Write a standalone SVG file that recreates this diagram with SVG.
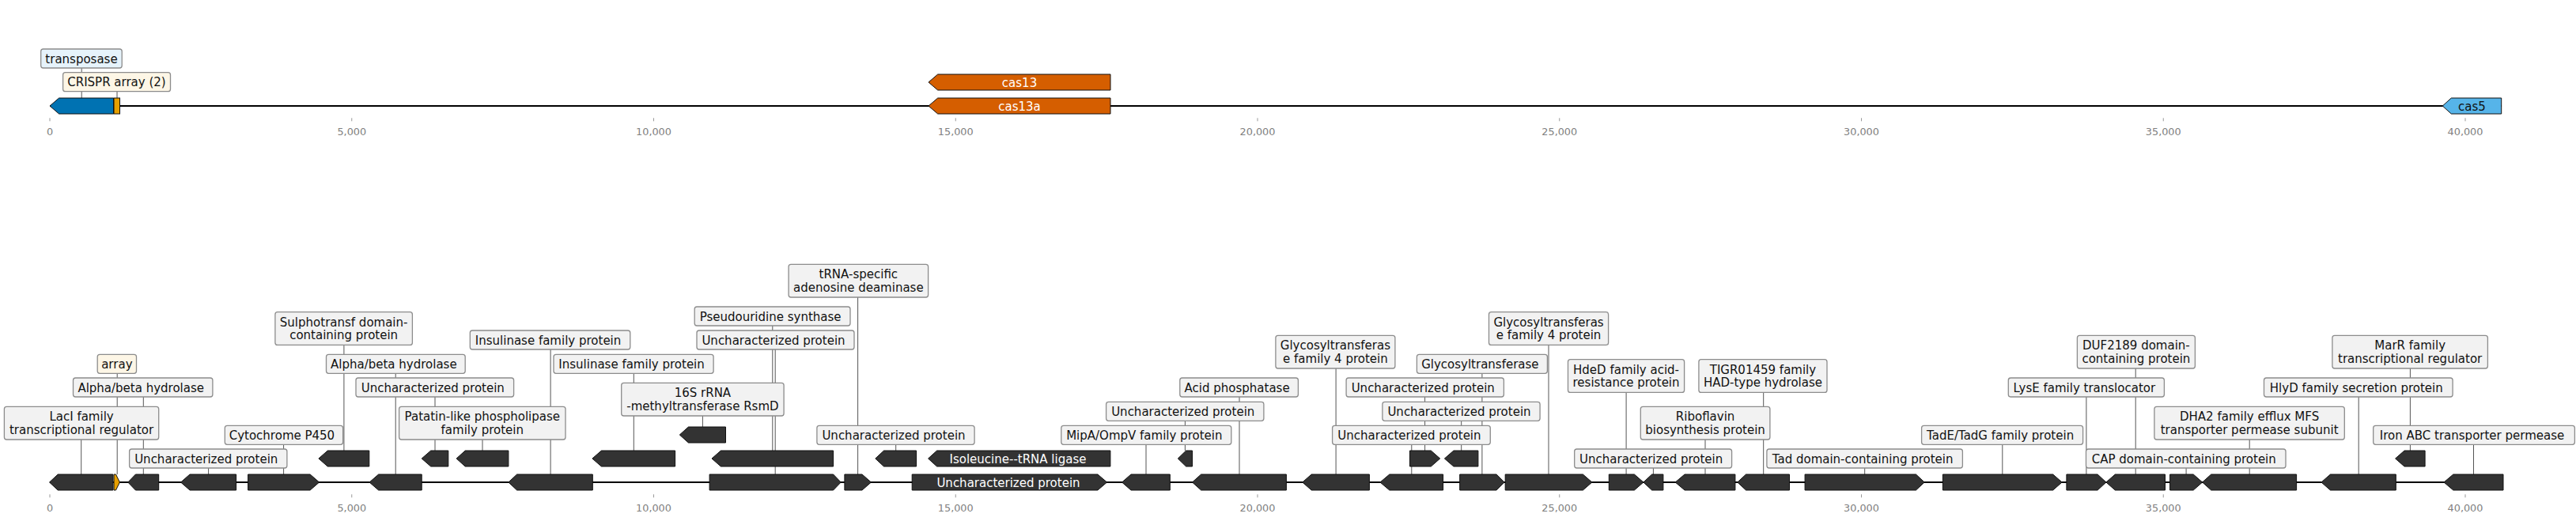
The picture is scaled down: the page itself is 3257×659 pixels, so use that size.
<svg xmlns="http://www.w3.org/2000/svg" width="3257" height="659" viewBox="0 0 3257 659">
<style>
.bg{fill:#ffffff}
.trk{stroke:#000;stroke-width:2;fill:none}
.tk{stroke:#999;stroke-width:1}
.ax{font-family:"DejaVu Sans","Liberation Sans",sans-serif;font-size:12.8px;fill:#808080;text-anchor:middle}
.g{fill:#333333;stroke:#111;stroke-width:1}
.lb{fill:#f2f2f2;stroke:#8c8c8c;stroke-width:1.3}
.lbc{fill:#fdf6e6;stroke:#8c8c8c;stroke-width:1.3}
.lbb{fill:#e6f3fb;stroke:#8c8c8c;stroke-width:1.3}
.t{font-family:"DejaVu Sans","Liberation Sans",sans-serif;font-size:15px;fill:#111;text-anchor:middle}
.tw{font-family:"DejaVu Sans","Liberation Sans",sans-serif;font-size:15px;fill:#ffffff;text-anchor:middle}
.c{stroke:#555;stroke-width:1;fill:none}
</style>
<rect class="bg" x="0" y="0" width="3257" height="659"/>
<g id="axes">
<line class="trk" x1="63" y1="134" x2="3163" y2="134"/>
<line class="trk" x1="63" y1="610" x2="3165" y2="610"/>
<g id="ticks-top">
<line class="tk" x1="63" y1="149.3" x2="63" y2="153.3"/><text class="ax" x="63" y="170.7">0</text>
<line class="tk" x1="444.75" y1="149.3" x2="444.75" y2="153.3"/><text class="ax" x="444.75" y="170.7">5,000</text>
<line class="tk" x1="826.5" y1="149.3" x2="826.5" y2="153.3"/><text class="ax" x="826.5" y="170.7">10,000</text>
<line class="tk" x1="1208.25" y1="149.3" x2="1208.25" y2="153.3"/><text class="ax" x="1208.25" y="170.7">15,000</text>
<line class="tk" x1="1590" y1="149.3" x2="1590" y2="153.3"/><text class="ax" x="1590" y="170.7">20,000</text>
<line class="tk" x1="1971.75" y1="149.3" x2="1971.75" y2="153.3"/><text class="ax" x="1971.75" y="170.7">25,000</text>
<line class="tk" x1="2353.5" y1="149.3" x2="2353.5" y2="153.3"/><text class="ax" x="2353.5" y="170.7">30,000</text>
<line class="tk" x1="2735.25" y1="149.3" x2="2735.25" y2="153.3"/><text class="ax" x="2735.25" y="170.7">35,000</text>
<line class="tk" x1="3117" y1="149.3" x2="3117" y2="153.3"/><text class="ax" x="3117" y="170.7">40,000</text>
</g>
<g id="ticks-bottom">
<line class="tk" x1="63" y1="625.3" x2="63" y2="629.3"/><text class="ax" x="63" y="646.5">0</text>
<line class="tk" x1="444.75" y1="625.3" x2="444.75" y2="629.3"/><text class="ax" x="444.75" y="646.5">5,000</text>
<line class="tk" x1="826.5" y1="625.3" x2="826.5" y2="629.3"/><text class="ax" x="826.5" y="646.5">10,000</text>
<line class="tk" x1="1208.25" y1="625.3" x2="1208.25" y2="629.3"/><text class="ax" x="1208.25" y="646.5">15,000</text>
<line class="tk" x1="1590" y1="625.3" x2="1590" y2="629.3"/><text class="ax" x="1590" y="646.5">20,000</text>
<line class="tk" x1="1971.75" y1="625.3" x2="1971.75" y2="629.3"/><text class="ax" x="1971.75" y="646.5">25,000</text>
<line class="tk" x1="2353.5" y1="625.3" x2="2353.5" y2="629.3"/><text class="ax" x="2353.5" y="646.5">30,000</text>
<line class="tk" x1="2735.25" y1="625.3" x2="2735.25" y2="629.3"/><text class="ax" x="2735.25" y="646.5">35,000</text>
<line class="tk" x1="3117" y1="625.3" x2="3117" y2="629.3"/><text class="ax" x="3117" y="646.5">40,000</text>
</g>
</g>
<g id="connectors">
<line class="c" x1="103.2" y1="86" x2="103.2" y2="124"/>
<line class="c" x1="148" y1="115.7" x2="148" y2="124"/>
<line class="c" x1="102.7" y1="556" x2="102.7" y2="600"/>
<line class="c" x1="148.2" y1="472.3" x2="148.2" y2="600"/>
<line class="c" x1="181.3" y1="502" x2="181.3" y2="600"/>
<line class="c" x1="263.6" y1="592" x2="263.6" y2="600"/>
<line class="c" x1="358.6" y1="562.3" x2="358.6" y2="600"/>
<line class="c" x1="434.9" y1="436" x2="434.9" y2="570"/>
<line class="c" x1="500.2" y1="472.3" x2="500.2" y2="600"/>
<line class="c" x1="550" y1="502" x2="550" y2="570"/>
<line class="c" x1="610" y1="556" x2="610" y2="570"/>
<line class="c" x1="696.1" y1="442" x2="696.1" y2="600"/>
<line class="c" x1="801.3" y1="472.3" x2="801.3" y2="570"/>
<line class="c" x1="888.4" y1="526" x2="888.4" y2="540"/>
<line class="c" x1="976.8" y1="412" x2="976.8" y2="570"/>
<line class="c" x1="980.2" y1="442" x2="980.2" y2="600"/>
<line class="c" x1="1084.6" y1="376" x2="1084.6" y2="600"/>
<line class="c" x1="1132.7" y1="562.3" x2="1132.7" y2="570"/>
<line class="c" x1="1449" y1="562.3" x2="1449" y2="600"/>
<line class="c" x1="1498.4" y1="532.3" x2="1498.4" y2="570"/>
<line class="c" x1="1567" y1="502" x2="1567" y2="600"/>
<line class="c" x1="1689.1" y1="466" x2="1689.1" y2="600"/>
<line class="c" x1="1784.8" y1="562.3" x2="1784.8" y2="600"/>
<line class="c" x1="1801.6" y1="502" x2="1801.6" y2="570"/>
<line class="c" x1="1847.7" y1="532.3" x2="1847.7" y2="570"/>
<line class="c" x1="1873.9" y1="472.3" x2="1873.9" y2="600"/>
<line class="c" x1="1958" y1="436" x2="1958" y2="600"/>
<line class="c" x1="2056.1" y1="496.4" x2="2056.1" y2="600"/>
<line class="c" x1="2090.4" y1="592" x2="2090.4" y2="600"/>
<line class="c" x1="2156" y1="556" x2="2156" y2="600"/>
<line class="c" x1="2229.7" y1="496.4" x2="2229.7" y2="600"/>
<line class="c" x1="2357.7" y1="592" x2="2357.7" y2="600"/>
<line class="c" x1="2531.8" y1="562.3" x2="2531.8" y2="600"/>
<line class="c" x1="2637.9" y1="502" x2="2637.9" y2="600"/>
<line class="c" x1="2700.2" y1="466" x2="2700.2" y2="600"/>
<line class="c" x1="2764.1" y1="592" x2="2764.1" y2="600"/>
<line class="c" x1="2844.2" y1="556" x2="2844.2" y2="600"/>
<line class="c" x1="2982.2" y1="502" x2="2982.2" y2="600"/>
<line class="c" x1="3047.4" y1="466" x2="3047.4" y2="570"/>
<line class="c" x1="3127.5" y1="562.3" x2="3127.5" y2="600"/>
</g>
<g id="top-transposase">
<polygon points="63,134 74.6,124 143.5,124 143.5,144 74.6,144" fill="#0072B2" stroke="#111" stroke-width="1"/>
<rect class="lbb" x="51.7" y="62" width="102.5" height="24" rx="3"/>
<text class="t" x="103" y="79.5">transposase</text>
</g>
<g id="top-crispr">
<rect x="144" y="124" width="7.5" height="20" fill="#E69F00" stroke="#111" stroke-width="1"/>
<rect class="lbc" x="79.6" y="91.7" width="135.9" height="24" rx="3"/>
<text class="t" x="147.5" y="109.2">CRISPR array (2)</text>
</g>
<g id="top-cas13">
<polygon points="1174,104 1185.7,94 1404,94 1404,114 1185.7,114" fill="#D55E00" stroke="#111" stroke-width="1"/>
<text class="tw" x="1289" y="109.5">cas13</text>
</g>
<g id="top-cas13a">
<polygon points="1174,134 1185.7,124 1404,124 1404,144 1185.7,144" fill="#D55E00" stroke="#111" stroke-width="1"/>
<text class="tw" x="1289" y="139.5">cas13a</text>
</g>
<g id="top-cas5">
<polygon points="3088.3,134 3099.3,124 3162.7,124 3162.7,144 3099.3,144" fill="#56B4E9" stroke="#111" stroke-width="1"/>
<text class="t" x="3125.5" y="139.5">cas5</text>
</g>
<g id="gA"><polygon class="g" points="62.5,610 73.2,600 142.9,600 142.9,620 73.2,620"/>
<rect class="lb" x="5.4" y="514.3" width="195.3" height="41.7" rx="3"/><text class="t" x="103.05" y="532.3">LacI family</text><text class="t" x="103.05" y="549">transcriptional regulator</text></g>
<g id="gArray"><polygon points="144,600 146.5,600 151.4,610 146.5,620 144,620" fill="#E69F00" stroke="#111" stroke-width="1"/>
<rect class="lbc" x="123.2" y="448.3" width="49.3" height="24" rx="3"/><text class="t" x="147.85" y="465.8">array</text></g>
<g id="gB"><polygon class="g" points="161.8,610 171.4,600 200.7,600 200.7,620 171.4,620"/>
<rect class="lb" x="92.5" y="478" width="176.4" height="24" rx="3"/><text class="t" x="178.2" y="495.5">Alpha/beta hydrolase</text></g>
<g id="gC"><polygon class="g" points="228.6,610 240,600 298.6,600 298.6,620 240,620"/>
<rect class="lb" x="163.6" y="568" width="199.3" height="24" rx="3"/><text class="t" x="260.75" y="585.5">Uncharacterized protein</text></g>
<g id="gD"><polygon class="g" points="313.6,600 392.1,600 403.6,610 392.1,620 313.6,620"/>
<rect class="lb" x="284.3" y="538.3" width="149.3" height="24" rx="3"/><text class="t" x="356.45" y="555.8">Cytochrome P450</text></g>
<g id="gE"><polygon class="g" points="402.9,580 414.3,570 466.8,570 466.8,590 414.3,590"/>
<rect class="lb" x="347.9" y="394.7" width="173.5" height="41.7" rx="3"/><text class="t" x="434.65" y="412.7">Sulphotransf domain-</text><text class="t" x="434.65" y="429.4">containing protein</text></g>
<g id="gF"><polygon class="g" points="467.1,610 478.6,600 533.2,600 533.2,620 478.6,620"/>
<rect class="lb" x="412.5" y="448.3" width="175.7" height="24" rx="3"/><text class="t" x="497.85" y="465.8">Alpha/beta hydrolase</text></g>
<g id="gG"><polygon class="g" points="533.2,580 544.7,570 566.8,570 566.8,590 544.7,590"/>
<rect class="lb" x="450" y="478" width="199.6" height="24" rx="3"/><text class="t" x="547.3" y="495.5">Uncharacterized protein</text></g>
<g id="gH"><polygon class="g" points="577.1,580 588.2,570 642.9,570 642.9,590 588.2,590"/>
<rect class="lb" x="504.6" y="514.3" width="210.4" height="41.7" rx="3"/><text class="t" x="609.8" y="532.3">Patatin-like phospholipase</text><text class="t" x="609.8" y="549">family protein</text></g>
<g id="gI"><polygon class="g" points="642.9,610 653.6,600 749.3,600 749.3,620 653.6,620"/>
<rect class="lb" x="594.3" y="418" width="202.5" height="24" rx="3"/><text class="t" x="693.05" y="435.5">Insulinase family protein</text></g>
<g id="gJ"><polygon class="g" points="748.9,580 760.4,570 853.6,570 853.6,590 760.4,590"/>
<rect class="lb" x="700" y="448.3" width="202.1" height="24" rx="3"/><text class="t" x="798.55" y="465.8">Insulinase family protein</text></g>
<g id="gK"><polygon class="g" points="859.3,550 870.4,540 917.5,540 917.5,560 870.4,560"/>
<rect class="lb" x="785.7" y="484.3" width="205.4" height="41.7" rx="3"/><text class="t" x="888.4" y="502.3">16S rRNA</text><text class="t" x="888.4" y="519">-methyltransferase RsmD</text></g>
<g id="gL"><polygon class="g" points="900,580 911.4,570 1053.6,570 1053.6,590 911.4,590"/>
<rect class="lb" x="878.2" y="388" width="196.8" height="24" rx="3"/><text class="t" x="974.1" y="405.5">Pseudouridine synthase</text></g>
<g id="gM"><polygon class="g" points="897.1,600 1053.6,600 1063.2,610 1053.6,620 897.1,620"/>
<rect class="lb" x="881" y="418" width="199" height="24" rx="3"/><text class="t" x="978" y="435.5">Uncharacterized protein</text></g>
<g id="gN"><polygon class="g" points="1067.9,600 1090,600 1101.4,610 1090,620 1067.9,620"/>
<rect class="lb" x="997.1" y="334.3" width="176.5" height="41.7" rx="3"/><text class="t" x="1085.35" y="352.3">tRNA-specific</text><text class="t" x="1085.35" y="369">adenosine deaminase</text></g>
<g id="gO"><polygon class="g" points="1106.8,580 1117.5,570 1158.6,570 1158.6,590 1117.5,590"/>
<rect class="lb" x="1032.9" y="538.3" width="199.2" height="24" rx="3"/><text class="t" x="1130" y="555.8">Uncharacterized protein</text></g>
<g id="gP"><polygon class="g" points="1173.6,580 1184.6,570 1403.9,570 1403.9,590 1184.6,590"/>
<text class="tw" x="1287" y="585.5">Isoleucine--tRNA ligase</text></g>
<g id="gQ"><polygon class="g" points="1153.2,600 1387.9,600 1399.6,610 1387.9,620 1153.2,620"/>
<text class="tw" x="1275" y="615.5">Uncharacterized protein</text></g>
<g id="gR"><polygon class="g" points="1418.6,610 1430,600 1479.3,600 1479.3,620 1430,620"/>
<rect class="lb" x="1341.8" y="538.3" width="215" height="24" rx="3"/><text class="t" x="1446.8" y="555.8">MipA/OmpV family protein</text></g>
<g id="gS"><polygon class="g" points="1489.3,580 1499.6,570 1507.5,570 1507.5,590 1499.6,590"/>
<rect class="lb" x="1398.6" y="508.3" width="199.3" height="24" rx="3"/><text class="t" x="1495.75" y="525.8">Uncharacterized protein</text></g>
<g id="gT"><polygon class="g" points="1507.5,610 1518.6,600 1626.4,600 1626.4,620 1518.6,620"/>
<rect class="lb" x="1491.8" y="478" width="149.6" height="24" rx="3"/><text class="t" x="1564.1" y="495.5">Acid phosphatase</text></g>
<g id="gU"><polygon class="g" points="1646.8,610 1658.2,600 1731.4,600 1731.4,620 1658.2,620"/>
<rect class="lb" x="1612.9" y="424.3" width="151" height="41.7" rx="3"/><text class="t" x="1688.4" y="442.3">Glycosyltransferas</text><text class="t" x="1688.4" y="459">e family 4 protein</text></g>
<g id="gV"><polygon class="g" points="1745,610 1756.8,600 1824.6,600 1824.6,620 1756.8,620"/>
<rect class="lb" x="1684.6" y="538.3" width="199.7" height="24" rx="3"/><text class="t" x="1781.95" y="555.8">Uncharacterized protein</text></g>
<g id="gW"><polygon class="g" points="1782.5,570 1809.3,570 1820.7,580 1809.3,590 1782.5,590"/>
<rect class="lb" x="1702.1" y="478" width="199.3" height="24" rx="3"/><text class="t" x="1799.25" y="495.5">Uncharacterized protein</text></g>
<g id="gX"><polygon class="g" points="1826.4,580 1837.9,570 1868.9,570 1868.9,590 1837.9,590"/>
<rect class="lb" x="1747.9" y="508.3" width="199.2" height="24" rx="3"/><text class="t" x="1845" y="525.8">Uncharacterized protein</text></g>
<g id="gY"><polygon class="g" points="1845.7,600 1892.1,600 1902.1,610 1892.1,620 1845.7,620"/>
<rect class="lb" x="1791.4" y="448.3" width="165" height="24" rx="3"/><text class="t" x="1871.4" y="465.8">Glycosyltransferase</text></g>
<g id="gZ"><polygon class="g" points="1903.2,600 2001.4,600 2012.9,610 2001.4,620 1903.2,620"/>
<rect class="lb" x="1882.5" y="394.7" width="151.1" height="41.7" rx="3"/><text class="t" x="1958.05" y="412.7">Glycosyltransferas</text><text class="t" x="1958.05" y="429.4">e family 4 protein</text></g>
<g id="gAA"><polygon class="g" points="2034.3,600 2066.4,600 2077.9,610 2066.4,620 2034.3,620"/>
<rect class="lb" x="1982.5" y="454.7" width="147.1" height="41.7" rx="3"/><text class="t" x="2056.05" y="472.7">HdeD family acid-</text><text class="t" x="2056.05" y="489.4">resistance protein</text></g>
<g id="gAB"><polygon class="g" points="2077.9,610 2088.6,600 2102.9,600 2102.9,620 2088.6,620"/>
<rect class="lb" x="1990.7" y="568" width="198.9" height="24" rx="3"/><text class="t" x="2087.65" y="585.5">Uncharacterized protein</text></g>
<g id="gAC"><polygon class="g" points="2118.2,610 2130,600 2193.9,600 2193.9,620 2130,620"/>
<rect class="lb" x="2074.3" y="514.3" width="163.6" height="41.7" rx="3"/><text class="t" x="2156.1" y="532.3">Riboflavin</text><text class="t" x="2156.1" y="549">biosynthesis protein</text></g>
<g id="gAD"><polygon class="g" points="2196.8,610 2207.5,600 2262.5,600 2262.5,620 2207.5,620"/>
<rect class="lb" x="2147.9" y="454.7" width="162.1" height="41.7" rx="3"/><text class="t" x="2228.95" y="472.7">TIGR01459 family</text><text class="t" x="2228.95" y="489.4">HAD-type hydrolase</text></g>
<g id="gAE"><polygon class="g" points="2282.1,600 2422.5,600 2433.2,610 2422.5,620 2282.1,620"/>
<rect class="lb" x="2233.9" y="568" width="247.5" height="24" rx="3"/><text class="t" x="2355.15" y="585.5">Tad domain-containing protein</text></g>
<g id="gAF"><polygon class="g" points="2456.4,600 2595.7,600 2607.1,610 2595.7,620 2456.4,620"/>
<rect class="lb" x="2429.6" y="538.3" width="204" height="24" rx="3"/><text class="t" x="2529.1" y="555.8">TadE/TadG family protein</text></g>
<g id="gAG"><polygon class="g" points="2612.9,600 2652.1,600 2662.9,610 2652.1,620 2612.9,620"/>
<rect class="lb" x="2539.3" y="478" width="197.1" height="24" rx="3"/><text class="t" x="2635.35" y="495.5">LysE family translocator</text></g>
<g id="gAH"><polygon class="g" points="2662.9,610 2674.3,600 2737.5,600 2737.5,620 2674.3,620"/>
<rect class="lb" x="2626.4" y="424.3" width="149" height="41.7" rx="3"/><text class="t" x="2700.9" y="442.3">DUF2189 domain-</text><text class="t" x="2700.9" y="459">containing protein</text></g>
<g id="gAI"><polygon class="g" points="2743.6,600 2773.2,600 2784.6,610 2773.2,620 2743.6,620"/>
<rect class="lb" x="2637.5" y="568" width="252.5" height="24" rx="3"/><text class="t" x="2761.25" y="585.5">CAP domain-containing protein</text></g>
<g id="gAJ"><polygon class="g" points="2784.6,610 2795.7,600 2903.6,600 2903.6,620 2795.7,620"/>
<rect class="lb" x="2723.9" y="514.3" width="240.4" height="41.7" rx="3"/><text class="t" x="2844.1" y="532.3">DHA2 family efflux MFS</text><text class="t" x="2844.1" y="549">transporter permease subunit</text></g>
<g id="gAK"><polygon class="g" points="2935,610 2946.4,600 3029.3,600 3029.3,620 2946.4,620"/>
<rect class="lb" x="2862.5" y="478" width="238.6" height="24" rx="3"/><text class="t" x="2979.3" y="495.5">HlyD family secretion protein</text></g>
<g id="gAL"><polygon class="g" points="3028.6,580 3040,570 3066.1,570 3066.1,590 3040,590"/>
<rect class="lb" x="2948.9" y="424.3" width="196.5" height="41.7" rx="3"/><text class="t" x="3047.15" y="442.3">MarR family</text><text class="t" x="3047.15" y="459">transcriptional regulator</text></g>
<g id="gAM"><polygon class="g" points="3090,610 3101.8,600 3165,600 3165,620 3101.8,620"/>
<rect class="lb" x="3000.7" y="538.3" width="254.7" height="24" rx="3"/><text class="t" x="3125.55" y="555.8">Iron ABC transporter permease</text></g>
</svg>
